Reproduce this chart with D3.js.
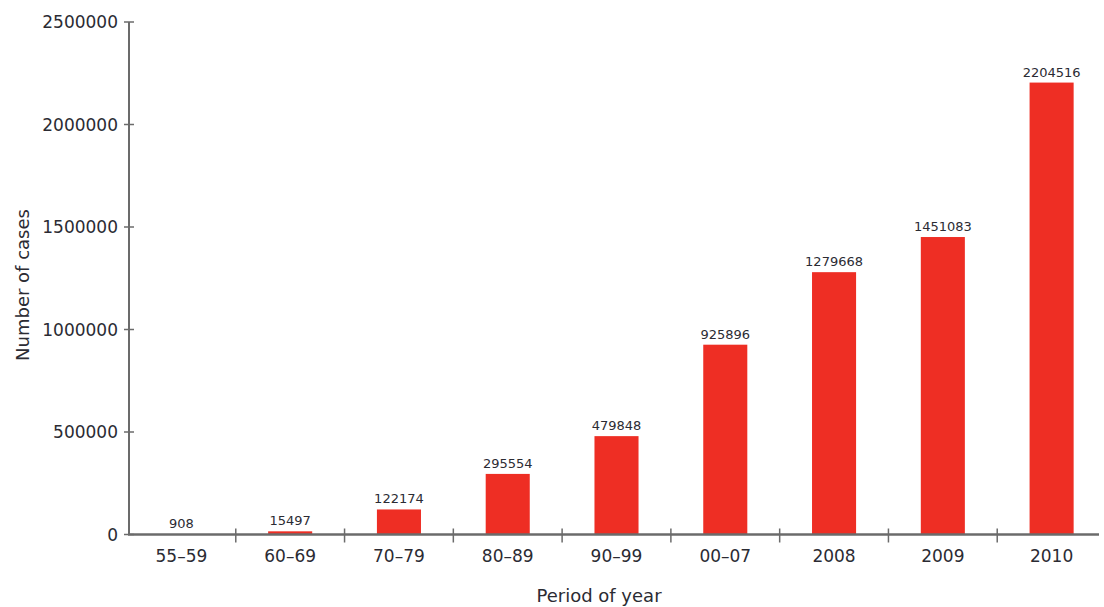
<!DOCTYPE html>
<html>
<head>
<meta charset="utf-8">
<script src="https://cdn.jsdelivr.net/npm/d3@7"></script>
<style>
  body { margin: 0; background: #fff; }
  text { font-family: "DejaVu Sans", sans-serif; fill: #2b2b33; }
</style>
</head>
<body>
<div id="chart"></div>
<script>
// data
var periods = ["55\u201359", "60\u201369", "70\u201379", "80\u201389", "90\u201399", "00\u201307", "2008", "2009", "2010"];
var cases = [908, 15497, 122174, 295554, 479848, 925896, 1279668, 1451083, 2204516];
var yTicks = [0, 500000, 1000000, 1500000, 2000000, 2500000];

var W = 1104, H = 607;
var mLeft = 127, mRight = 1106, mTop = 22, mBottom = 534.5;

var svg = d3.select("#chart").append("svg").attr("width", W).attr("height", H);

var x = d3.scaleBand().domain(periods).range([mLeft, mRight]).padding(0);
var y = d3.scaleLinear().domain([0, 2500000]).range([mBottom, mTop]);
var barW = x.bandwidth() * 0.405;

// bars
svg.selectAll("rect.bar").data(cases).enter().append("rect")
  .attr("class", "bar")
  .attr("x", function(d, i) { return x(periods[i]) + x.bandwidth() / 2 - barW / 2; })
  .attr("y", function(d) { return y(d); })
  .attr("width", barW)
  .attr("height", function(d) { return mBottom - y(d); })
  .attr("fill", "#ee2e24");

// value labels
svg.selectAll("text.val").data(cases).enter().append("text")
  .attr("class", "val")
  .attr("x", function(d, i) { return x(periods[i]) + x.bandwidth() / 2; })
  .attr("y", function(d) { return y(d) - 6; })
  .attr("text-anchor", "middle")
  .style("font-size", "13px")
  .text(function(d) { return d; });

// y axis
var axisColor = "#6b6b6b";
svg.append("line").attr("x1", mLeft + 2).attr("x2", mLeft + 2).attr("y1", mTop).attr("y2", mBottom)
  .attr("stroke", axisColor).attr("stroke-width", 2);
svg.selectAll("line.yt").data(yTicks).enter().append("line")
  .attr("class", "yt")
  .attr("x1", mLeft - 3).attr("x2", mLeft + 7)
  .attr("y1", function(d) { return y(d); }).attr("y2", function(d) { return y(d); })
  .attr("stroke", axisColor).attr("stroke-width", 1.5);
svg.selectAll("text.yl").data(yTicks).enter().append("text")
  .attr("class", "yl")
  .attr("x", 118)
  .attr("y", function(d) { return y(d) + 6; })
  .attr("text-anchor", "end")
  .style("font-size", "17px")
  .text(function(d) { return d; });

// x axis
svg.append("line").attr("x1", mLeft + 1).attr("x2", 1099).attr("y1", mBottom).attr("y2", mBottom)
  .attr("stroke", axisColor).attr("stroke-width", 2.5);
svg.selectAll("line.xt").data(periods.slice(1)).enter().append("line")
  .attr("class", "xt")
  .attr("x1", function(d) { return x(d); }).attr("x2", function(d) { return x(d); })
  .attr("y1", mBottom - 6).attr("y2", mBottom + 8)
  .attr("stroke", axisColor).attr("stroke-width", 1.5);
svg.selectAll("text.xl").data(periods).enter().append("text")
  .attr("class", "xl")
  .attr("x", function(d) { return x(d) + x.bandwidth() / 2; })
  .attr("y", 562)
  .attr("text-anchor", "middle")
  .style("font-size", "17px")
  .text(function(d) { return d; });

// axis titles
svg.append("text").attr("x", 599).attr("y", 602)
  .attr("text-anchor", "middle").style("font-size", "18px").text("Period of year");
svg.append("text").attr("transform", "translate(29,285) rotate(-90)")
  .attr("text-anchor", "middle").style("font-size", "18px").text("Number of cases");
</script>
</body>
</html>
